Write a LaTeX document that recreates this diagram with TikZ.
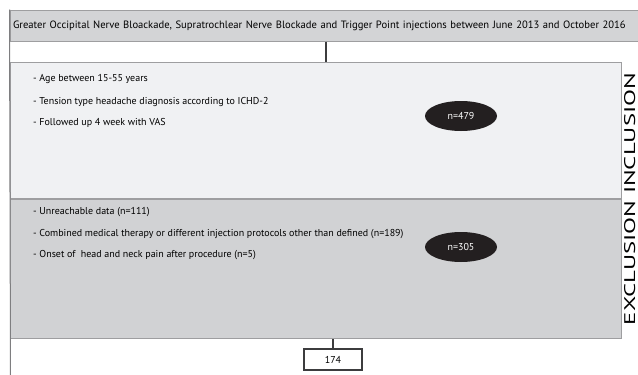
\documentclass[tikz,border=0pt]{standalone}
\usepackage{fontspec}
\setmainfont{PT Sans}
\usetikzlibrary{%
calc,%
shapes.geometric,%
positioning}
\definecolor{hdrgray}{RGB}{211,212,214}
\definecolor{incgray}{RGB}{240,241,243}
\definecolor{excgray}{RGB}{209,210,212}
\definecolor{edgegray}{RGB}{158,158,160}
\definecolor{linkgray}{RGB}{60,60,62}
\definecolor{ovalblack}{RGB}{35,31,32}
\tikzset{
    panel/.style={draw=edgegray,line width=1pt,rectangle,inner sep=0pt},
    itemtext/.style={anchor=west,font=\fontsize{10}{11}\selectfont,inner sep=0pt},
    countoval/.style={ellipse,fill=ovalblack,text=white,minimum width=72pt,minimum height=30pt,inner sep=0pt,font=\fontsize{10}{11}\selectfont},
    link/.style={draw=linkgray,line width=2pt}
}
\begin{document}
\begin{tikzpicture}[x=1pt,y=-1pt]
\useasboundingbox (0,0) rectangle (638,375);
\node[panel,fill=hdrgray,minimum width=632pt,minimum height=31pt,
    text width=626pt,align=left,font=\fontsize{10.6}{12}\selectfont] (title) at (326,25.5)
    {Greater Occipital Nerve Bloackade, Supratrochlear Nerve Blockade and Trigger Point injections between June 2013 and October 2016};
\node[panel,fill=incgray,minimum width=610.5pt,minimum height=136pt] (incl) at (315.75,130.5) {};
\node[panel,fill=excgray,minimum width=610.5pt,minimum height=138.5pt,below=0pt of incl] (excl) {};
% left frame line
\coordinate (frameend) at (10.5,375);
\draw[draw=edgegray!80!black,line width=1pt] (title.north west) -- (frameend);
% connectors
\draw[link] (title.south) -- (title.south |- incl.north);
\node[draw=linkgray,line width=2.5pt,minimum width=58pt,minimum height=21pt,font=\fontsize{10}{11}\selectfont] (final) at (333,359.5) {174};
\draw[link] (final.north) -- (final.north |- excl.south);
% inclusion criteria
\node[itemtext] (inc1) at (33,79) {- Age between 15-55 years};
\node[itemtext] (inc2) at (33,101.5) {- Tension type headache diagnosis according to ICHD-2};
\node[itemtext] (inc3) at (33,123) {- Followed up 4 week with VAS};
\node[countoval] (ninc) at (461,116) {n=479};
% exclusion criteria
\node[itemtext] (exc1) at (33,212.5) {- Unreachable data (n=111)};
\node[itemtext] (exc2) at (33,234) {- Combined medical therapy or different injection protocols other than defined (n=189)};
\node[itemtext] (exc3) at (33,255) {- Onset of \ head and neck pain after procedure (n=5)};
\node[countoval] (nexc) at (461,247) {n=305};
% side label
\node[rotate=90,anchor=north,inner sep=0pt] (side) at (624,199)
    {\resizebox{252pt}{11pt}{\fontsize{20}{22}\selectfont EXCLUSION INCLUSION}};
\end{tikzpicture}
\end{document}
